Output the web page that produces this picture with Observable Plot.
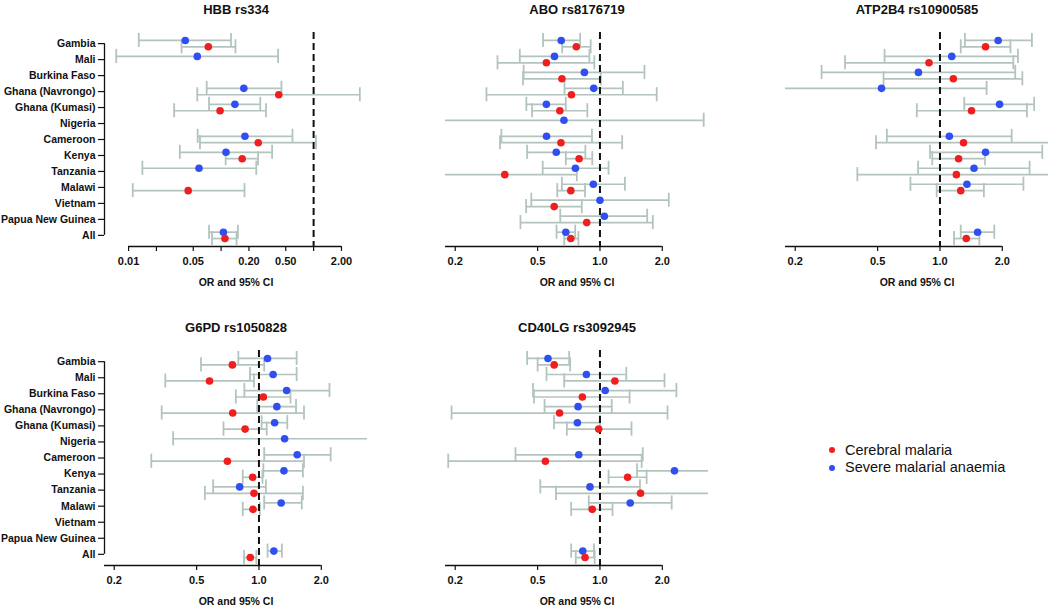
<!DOCTYPE html>
<html><head><meta charset="utf-8">
<script src="https://cdn.jsdelivr.net/npm/d3@7"></script>
<script src="https://cdn.jsdelivr.net/npm/@observablehq/plot@0.6"></script>
<style>
html,body{margin:0;padding:0;background:#fff;}
body{width:1050px;height:605px;position:relative;overflow:hidden;font-family:"Liberation Sans",Arial,Helvetica,sans-serif;color:#111;}
.lg{position:absolute;font-size:14.5px;line-height:17px;white-space:nowrap;}
.lgdot{position:absolute;width:6px;height:6px;border-radius:50%;}
</style></head><body>
<div id="root"></div>
<script>
// ---- data ----
const countries = ["Gambia","Mali","Burkina Faso","Ghana (Navrongo)","Ghana (Kumasi)","Nigeria","Cameroon","Kenya","Tanzania","Malawi","Vietnam","Papua New Guinea","All"];
const groups = ["Cerebral malaria","Severe malarial anaemia"];

// [OR, lower 95% CI, upper 95% CI], null = not available
const hbbSMA = [[0.041,0.0129,0.128],[0.0553,0.00735,0.413],null,[0.176,0.0699,0.449],[0.141,0.0741,0.265],null,[0.181,0.0558,0.591],[0.113,0.0358,0.356],[0.0577,0.0141,0.240],null,null,null,[0.106,0.0741,0.152]];
const hbbCM  = [[0.0728,0.0374,0.143],null,null,[0.420,0.0553,3.16],[0.0975,0.0311,0.306],null,[0.252,0.0591,1.06],[0.169,0.112,0.251],null,[0.0441,0.0111,0.179],null,null,[0.110,0.0798,0.147]];

const aboSMA = [[0.650,0.531,0.802],[0.603,0.410,0.889],[0.841,0.428,1.64],[0.933,0.674,1.29],[0.551,0.441,0.684],[0.670,0.12,3.17],[0.552,0.334,0.915],[0.615,0.445,0.850],[0.761,0.529,1.10],[0.929,0.655,1.32],[1.0,0.466,2.15],[1.05,0.643,1.69],[0.684,0.617,0.759]];
const aboCM  = [[0.769,0.657,0.902],[0.551,0.320,0.939],[0.655,0.425,1.01],[0.728,0.283,1.88],[0.640,0.470,0.869],null,[0.648,0.329,1.28],[0.793,0.684,0.918],[0.347,0.12,0.773],[0.723,0.622,0.847],[0.601,0.440,0.817],[0.863,0.413,1.80],[0.723,0.672,0.787]];

const atpSMA = [[1.91,1.32,2.78],[1.14,0.540,2.38],[0.787,0.268,2.31],[0.522,0.12,1.68],[1.94,1.31,2.85],null,[1.11,0.554,2.22],[1.66,0.895,3.12],[1.46,0.784,2.71],[1.35,0.720,2.53],null,null,[1.52,1.26,1.83]];
const atpCM  = [[1.66,1.26,2.19],[0.885,0.348,2.26],[1.16,0.534,2.50],null,[1.42,0.773,2.63],null,[1.30,0.491,3.8],[1.23,0.918,1.65],[1.20,0.399,3.8],[1.26,0.964,1.63],null,null,[1.34,1.17,1.55]];

const g6pdSMA = [[1.10,0.795,1.52],[1.17,0.905,1.52],[1.36,0.850,2.19],[1.22,0.981,1.51],[1.19,1.03,1.37],[1.33,0.385,3.8],[1.53,1.06,2.22],[1.32,1.05,1.63],[0.807,0.601,1.08],[1.28,1.06,1.61],null,null,[1.18,1.10,1.29]];
const g6pdCM  = [[0.744,0.525,1.06],[0.577,0.353,0.946],[1.05,0.773,1.42],[0.747,0.339,1.65],[0.857,0.674,1.09],null,[0.704,0.302,1.65],[0.932,0.835,1.04],[0.946,0.548,1.63],[0.936,0.835,1.01],null,null,[0.908,0.847,0.971]];

const cd40SMA = [[0.561,0.445,0.710],[0.860,0.552,1.34],[1.06,0.475,2.34],[0.784,0.540,1.14],[0.778,0.600,1.0],null,[0.790,0.391,1.61],[2.29,1.51,3.8],[0.895,0.515,1.56],[1.40,0.883,2.22],null,null,[0.826,0.726,0.936]];
const cd40CM  = [[0.601,0.500,0.718],[1.18,0.672,2.05],[0.822,0.480,1.39],[0.638,0.192,2.12],[0.986,0.692,1.42],null,[0.545,0.185,1.59],[1.36,1.10,1.68],[1.57,0.613,3.8],[0.918,0.726,1.15],null,null,[0.847,0.764,0.943]];

const ticksWide = [0.01,0.02,0.05,0.1,0.2,0.5,1,2];
const tickLabelsWide = ["0.01","","0.05","","0.20","0.50","","2.00"];
const ticksStd = [0.2,0.5,1,2];
const tickLabelsStd = ["0.2","0.5","1.0","2.0"];
const xlimWide = [0.007, 3];
const xlimStd = [0.2, 3];

// ---- style ----
const RED = "#f21d1d", BLUE = "#2f4ff2", CI = "#b3c4bf", INK = "#111";
const CAP = 0.44;

const panels = [
  {title:"HBB rs334", sma:hbbSMA, cm:hbbCM, xlim:xlimWide, ticks:ticksWide, labels:tickLabelsWide, axisFrom:0.01, yLabels:true, left:104, top:32, fh:214},
  {title:"ABO rs8176719", sma:aboSMA, cm:aboCM, xlim:xlimStd, ticks:ticksStd, labels:tickLabelsStd, axisFrom:null, yLabels:false, left:445, top:32, fh:214},
  {title:"ATP2B4 rs10900585", sma:atpSMA, cm:atpCM, xlim:xlimStd, ticks:ticksStd, labels:tickLabelsStd, axisFrom:null, yLabels:false, left:785, top:32, fh:214},
  {title:"G6PD rs1050828", sma:g6pdSMA, cm:g6pdCM, xlim:xlimStd, ticks:ticksStd, labels:tickLabelsStd, axisFrom:null, yLabels:true, left:104, top:350, fh:215},
  {title:"CD40LG rs3092945", sma:cd40SMA, cm:cd40CM, xlim:xlimStd, ticks:ticksStd, labels:tickLabelsStd, axisFrom:null, yLabels:false, left:445, top:350, fh:215}
];

const root = document.getElementById("root");

for (const p of panels) {
  const data = [];
  countries.forEach((c, i) => {
    const s = p.sma[i], m = p.cm[i];
    if (s) data.push({y: i + 1 - 0.2, or: s[0], lo: s[1], hi: s[2], g: groups[1]});
    if (m) data.push({y: i + 1 + 0.2, or: m[0], lo: m[1], hi: m[2], g: groups[0]});
  });
  const ly = [0.8, 13.2], ey = 0.04 * (ly[1] - ly[0]);
  const yDom = [ly[0] - ey, ly[1] + ey];
  const lx = p.xlim.map(Math.log10), ex = 0.04 * (lx[1] - lx[0]);
  const xDom = [10 ** (lx[0] - ex), 10 ** (lx[1] + ex)];
  const tickLabels = p.ticks.map((t, i) => ({t, label: p.labels[i]})).filter(d => d.label !== "");
  const ml = p.yLabels ? 104 : 30, mr = 2, mt = 32, mb = 44, fw = 263;

  const marks = [
    Plot.ruleY(data, {y: "y", x1: "lo", x2: "hi", stroke: CI, strokeWidth: 1.7, clip: true}),
    Plot.ruleX(data, {x: "lo", y1: d => d.y - CAP, y2: d => d.y + CAP, stroke: CI, strokeWidth: 1.8, clip: true}),
    Plot.ruleX(data, {x: "hi", y1: d => d.y - CAP, y2: d => d.y + CAP, stroke: CI, strokeWidth: 1.8, clip: true}),
    Plot.ruleX([1], {stroke: INK, strokeWidth: 2, strokeDasharray: "7,4"}),
    Plot.dot(data, {x: "or", y: "y", r: 3.8, fill: "g", stroke: null}),
    Plot.ruleY([yDom[1]], {x1: p.axisFrom ?? xDom[0], x2: 2, stroke: INK, strokeWidth: 1.3}),
    Plot.axisX({ticks: p.ticks, tickFormat: () => "", tickSize: 5, label: null, stroke: INK, strokeWidth: 1.2}),
    Plot.text(tickLabels, {x: "t", text: "label", frameAnchor: "bottom", dy: 18, lineAnchor: "bottom", fontSize: 11, fontWeight: "bold"}),
    Plot.text([p.title], {frameAnchor: "top", dy: -19, lineAnchor: "bottom", fontSize: 13, fontWeight: "bold"}),
    Plot.text(["OR and 95% CI"], {frameAnchor: "bottom", dy: 39, lineAnchor: "bottom", fontSize: 10.5, fontWeight: "bold"})
  ];
  if (p.yLabels) {
    marks.push(
      Plot.axisY({ticks: d3.range(1, 14), tickFormat: d => countries[d - 1], tickSize: 6, tickPadding: 3, fontSize: 10.5, fontWeight: "bold", label: null, stroke: INK, strokeWidth: 1.2}),
      Plot.ruleX([xDom[0]], {y1: 1, y2: 13, stroke: INK, strokeWidth: 1.3})
    );
  }

  const svg = Plot.plot({
    width: ml + fw + mr,
    height: mt + p.fh + mb,
    marginLeft: ml, marginRight: mr, marginTop: mt, marginBottom: mb,
    x: {type: "log", domain: xDom},
    y: {domain: yDom, reverse: true, axis: p.yLabels ? undefined : null},
    color: {domain: groups, range: [RED, BLUE]},
    style: {fontFamily: "'Liberation Sans', Arial, Helvetica, sans-serif", color: INK, background: "transparent", overflow: "visible"},
    marks
  });
  svg.style.position = "absolute";
  svg.style.left = (p.left - ml) + "px";
  svg.style.top = (p.top - mt) + "px";
  root.appendChild(svg);
}

// legend
const legendItems = [{label: groups[0], color: RED, cy: 450}, {label: groups[1], color: BLUE, cy: 467.7}];
for (const it of legendItems) {
  const dot = document.createElement("div");
  dot.className = "lgdot";
  dot.style.left = (831.7 - 3) + "px";
  dot.style.top = (it.cy - 3) + "px";
  dot.style.background = it.color;
  document.body.appendChild(dot);
  const t = document.createElement("div");
  t.className = "lg";
  t.style.left = "845px";
  t.style.top = (it.cy - 8.5) + "px";
  t.textContent = it.label;
  document.body.appendChild(t);
}
</script>
</body></html>
